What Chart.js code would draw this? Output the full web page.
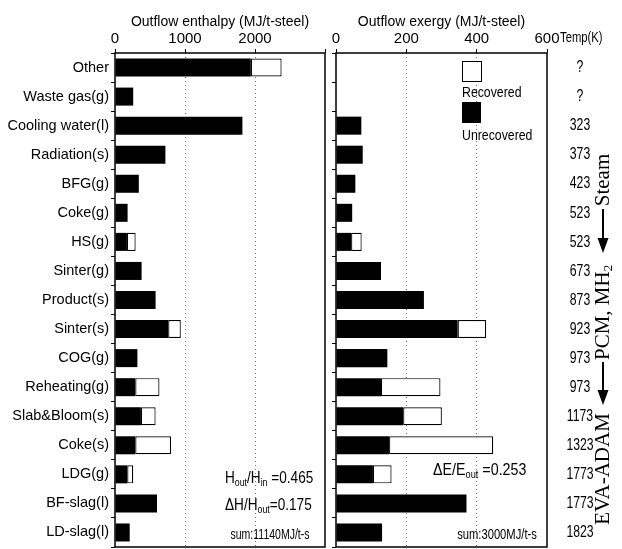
<!DOCTYPE html>
<html><head><meta charset="utf-8">
<script src="https://cdn.jsdelivr.net/npm/chart.js@4"></script>
<style>
html,body{margin:0;padding:0;background:#fff;width:622px;height:549px;overflow:hidden}
canvas{position:absolute;top:0}
#c1{left:0}
#c2{left:326px}
</style></head><body>
<canvas id="c1" width="330" height="549"></canvas>
<canvas id="c2" width="296" height="549"></canvas>
<script>
const categories = ['Other','Waste gas(g)','Cooling water(l)','Radiation(s)','BFG(g)','Coke(g)','HS(g)','Sinter(g)','Product(s)','Sinter(s)','COG(g)','Reheating(g)','Slab&Bloom(s)','Coke(s)','LDG(g)','BF-slag(l)','LD-slag(l)'];
const temps = ['?','?','323','373','423','523','523','673','873','923','973','973','1173','1323','1773','1773','1823'];
const enthalpyUnrecovered = [1940,260,1820,720,340,180,170,380,580,760,320,290,370,290,175,600,210];
const enthalpyRecovered   = [440,0,0,0,0,0,125,0,0,180,0,345,210,510,85,0,0];
const exergyUnrecovered   = [0,0,72,76,55,46,43,128,250,346,146,128,191,151,105,371,131];
const exergyRecovered     = [0,0,0,0,0,0,30,0,0,81,0,169,110,296,53,0,0];
const enthalpyTickLabels = [0,1000,2000];
const exergyTickLabels = [0,200,400,600];
const enthalpyMax = 3000, exergyMax = 600;
const seriesNames = ['Unrecovered','Recovered'];
const enthalpySum = 'sum:11140MJ/t-s';
const exergySum = 'sum:3000MJ/t-s';

const SANS = '"Liberation Sans Narrow","Liberation Sans",Arial,sans-serif';
const SERIF = '"Liberation Serif","DejaVu Serif",serif';
Chart.defaults.font.family = SANS;
Chart.defaults.color = '#000';
Chart.defaults.animation = false;

function datasets(unrec, rec){
  return [
    {label:seriesNames[0], data:unrec.map(v=>v||null), backgroundColor:'#000', borderColor:'#000', borderWidth:0, barPercentage:0.62, categoryPercentage:1, stack:'s'},
    {label:seriesNames[1], data:rec.map(v=>v||null), backgroundColor:'#fff', borderColor:'#000', borderWidth:1.2, borderSkipped:false, barPercentage:0.62, categoryPercentage:1, stack:'s'}
  ];
}
const boxPlugin = {id:'box', afterDraw(chart){
  const {ctx, chartArea:a} = chart;
  ctx.save(); ctx.strokeStyle='#000'; ctx.lineWidth=1.5;
  ctx.strokeRect(a.left,a.top,a.right-a.left,a.bottom-a.top); ctx.restore();
}};
// condensed text helper (horizontal squeeze like the original typeface)
function ctext(ctx, t, x, y, size, sx, align){
  ctx.save(); ctx.translate(x,y); ctx.scale(sx,1);
  ctx.font = size+'px '+SANS; ctx.textBaseline='middle'; ctx.textAlign=align||'left';
  ctx.fillText(t,0,0); ctx.restore();
}
function rich(ctx, x, y, parts, size, sx){
  ctx.save(); ctx.translate(x,y); ctx.scale(sx,1);
  ctx.textBaseline='middle'; ctx.textAlign='left';
  let cx = 0;
  for (const [t, sub] of parts){
    const fs = sub ? Math.round(size*0.62) : size;
    ctx.font = fs + 'px ' + SANS;
    ctx.fillText(t, cx, sub ? size*0.32 : 0);
    cx += ctx.measureText(t).width;
  }
  ctx.restore();
}
function xScale(max, step, labels, title){
  return {type:'linear', position:'top', min:0, max:max, stacked:true,
    ticks:{stepSize:step, callback:v=>labels.includes(v)?String(v):'', font:{size:15}, padding:1, maxRotation:0, color:'#000'},
    grid:{color:c=>(c.tick && (c.tick.value===0||c.tick.value===max))?'rgba(0,0,0,0)':'#777', lineWidth:1, tickColor:'#000', tickLength:4, tickBorderDash:[]},
    border:{display:false, dash:[1,3]},
    title:{display:true, text:title, font:{size:14}, padding:{top:14,bottom:0}, color:'#000'},
    afterFit:s=>{s.height=53; s.paddingLeft=0; s.paddingRight=0;}
  };
}
function yScale(showLabels, width){
  return {type:'category', stacked:true, offset:true, position:'left',
    ticks:{display:showLabels, font:{size:14.5}, padding:2, color:'#000', autoSkip:false},
    grid:{drawOnChartArea:false, tickLength:4, tickColor:'#000', offset:true},
    border:{display:false},
    afterFit:s=>{s.width=width; s.paddingTop=0; s.paddingBottom=0;}};
}

const leftNotes = {id:'leftNotes', afterDraw(chart){
  const ctx = chart.ctx; ctx.save(); ctx.fillStyle='#000';
  rich(ctx, 225, 478, [['H'],['out',1],['/H'],['in',1],[' =0.465']], 17, 0.8);
  rich(ctx, 225, 505, [['\u0394H/H'],['out',1],['=0.175']], 17, 0.8);
  ctext(ctx, enthalpySum, 270, 535, 14, 0.75, 'center');
  ctx.restore();
}};

new Chart(document.getElementById('c1'), {
  type:'bar',
  data:{labels:categories, datasets:datasets(enthalpyUnrecovered, enthalpyRecovered)},
  options:{indexAxis:'y', responsive:false, maintainAspectRatio:false,
    layout:{padding:{left:0,right:5,top:0,bottom:2}},
    plugins:{legend:{display:false}, tooltip:{enabled:false}},
    scales:{
      x:xScale(enthalpyMax, 1000, enthalpyTickLabels, 'Outflow enthalpy (MJ/t-steel)'),
      y:yScale(true, 115)
    }
  },
  plugins:[boxPlugin, leftNotes]
});

const OX = 326;
const rightNotes = {id:'rightNotes', afterDraw(chart){
  const ctx = chart.ctx; ctx.save(); ctx.fillStyle='#000';
  // legend
  ctx.lineWidth=1; ctx.strokeStyle='#000';
  ctx.fillStyle='#fff'; ctx.fillRect(462-OX,61,19,20); ctx.strokeRect(462.5-OX,61.5,19,20);
  ctx.fillStyle='#000'; ctx.fillRect(462-OX,102,19,21);
  ctext(ctx, seriesNames[1], 462-OX, 93, 15, 0.82);
  ctext(ctx, seriesNames[0], 462-OX, 136, 15, 0.82);
  // temperature column, placed on the category scale
  const ys = chart.scales.y;
  ctext(ctx, 'Temp(K)', 560-OX, 38, 15, 0.75);
  temps.forEach((t,i)=>ctext(ctx, t, 580-OX, ys.getPixelForValue(i), 17, 0.72, 'center'));
  // notes
  rich(ctx, 433-OX, 470, [['\u0394E/E'],['out',1],[' =0.253']], 17, 0.84);
  ctext(ctx, exergySum, 497-OX, 535, 14, 0.8, 'center');
  // vertical process text
  const vx = 603-OX;
  ctx.font='21px '+SERIF;
  const vt=(t,cy)=>{ctx.save(); ctx.translate(vx,cy); ctx.rotate(-Math.PI/2); ctx.textAlign='center'; ctx.textBaseline='middle'; ctx.fillText(t,0,0); ctx.restore();};
  vt('Steam', 180);
  vt('EVA-ADAM', 469);
  ctx.save(); ctx.translate(vx, 360); ctx.rotate(-Math.PI/2); ctx.textAlign='left'; ctx.textBaseline='middle';
  ctx.font='21px '+SERIF; ctx.fillText('PCM, MH',0,0);
  const w = ctx.measureText('PCM, MH').width;
  ctx.font='13px '+SERIF; ctx.fillText('2', w, 6);
  ctx.restore();
  const arrow=(y1,y2)=>{
    ctx.lineWidth=2; ctx.beginPath(); ctx.moveTo(vx,y1); ctx.lineTo(vx,y2-10); ctx.stroke();
    ctx.beginPath(); ctx.moveTo(vx-5.5,y2-15); ctx.lineTo(vx+5.5,y2-15); ctx.lineTo(vx,y2); ctx.closePath(); ctx.fill();
  };
  arrow(209, 253);
  arrow(362, 405);
  ctx.restore();
}};

new Chart(document.getElementById('c2'), {
  type:'bar',
  data:{labels:categories, datasets:datasets(exergyUnrecovered, exergyRecovered)},
  options:{indexAxis:'y', responsive:false, maintainAspectRatio:false,
    layout:{padding:{left:0,right:75,top:0,bottom:2}},
    plugins:{legend:{display:false}, tooltip:{enabled:false}},
    scales:{
      x:xScale(exergyMax, 200, exergyTickLabels, 'Outflow exergy (MJ/t-steel)'),
      y:yScale(false, 10)
    }
  },
  plugins:[boxPlugin, rightNotes]
});
</script>
</body></html>
